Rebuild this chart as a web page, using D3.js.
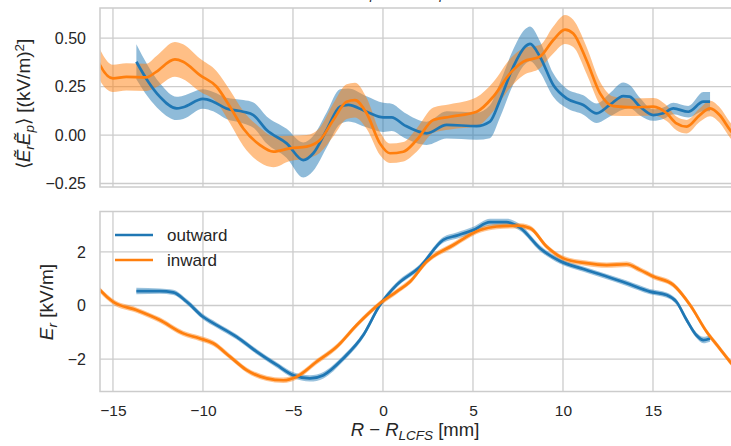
<!DOCTYPE html>
<html>
<head>
<meta charset="utf-8">
<script src="https://cdn.jsdelivr.net/npm/d3@7"></script>
<style>
  body { margin: 0; background: #fff; }
  svg { display: block; }
  text { font-family: Arial, 'Liberation Sans', sans-serif; fill: #262626; }
</style>
</head>
<body>
<svg id="chart" width="731" height="446"></svg>
<script>
// top panel: <E_r E_p> [(kV/m)^2]
const outTopR = [-13.7,-13.04,-12.4,-11.46,-11.1,-10,-9.43,-8.7,-7.76,-7.2,-6.46,-5.35,-4.43,-3.87,-3.13,-2.39,-1.93,-0.91,0.02,0.48,1.2,2.43,3.54,5.2,5.94,6.5,7.24,7.89,8.17,8.72,9.46,10.2,11.13,11.87,12.6,13.35,13.7,14.28,15.02,15.57,16.13,16.96,17.8,18.17];
const outTopV = [0.378,0.275,0.198,0.137,0.143,0.186,0.172,0.137,0.12,0.103,0.026,-0.043,-0.129,-0.094,0.026,0.146,0.155,0.12,0.091,0.091,0.05,0.009,0.052,0.046,0.069,0.18,0.352,0.455,0.47,0.404,0.258,0.189,0.155,0.112,0.155,0.201,0.198,0.146,0.103,0.112,0.137,0.12,0.172,0.172];
const outTopErr = [0.09,0.08,0.07,0.06,0.06,0.05,0.05,0.055,0.06,0.065,0.07,0.075,0.09,0.09,0.09,0.09,0.085,0.08,0.075,0.07,0.065,0.06,0.07,0.07,0.085,0.09,0.09,0.09,0.09,0.08,0.06,0.05,0.05,0.05,0.06,0.07,0.06,0.045,0.03,0.03,0.03,0.03,0.05,0.05];

const inTopR = [-16,-15.72,-15,-14.26,-13.15,-12.6,-11.56,-11.1,-10.17,-9.24,-8.5,-7.76,-6.83,-6.09,-5.17,-4.24,-3.5,-2.76,-2.02,-1.56,-0.91,-0.17,0.39,1.13,1.87,2.8,3.72,5.2,6.13,7.06,7.8,8.72,9.46,10.11,10.57,11.3,12.06,12.8,13.9,15.02,15.76,16.3,16.87,17.6,18.17,18.7,19.28,19.6];
const inTopV = [0.42,0.361,0.292,0.3,0.297,0.326,0.39,0.378,0.309,0.249,0.146,0.034,-0.052,-0.086,-0.069,-0.06,-0.026,0.077,0.172,0.18,0.112,-0.043,-0.094,-0.086,-0.026,0.077,0.094,0.12,0.198,0.318,0.378,0.404,0.49,0.544,0.524,0.387,0.215,0.149,0.143,0.146,0.112,0.06,0.043,0.103,0.137,0.103,0.026,-0.01];
const inTopErr = [0.08,0.08,0.07,0.07,0.07,0.08,0.09,0.09,0.085,0.08,0.085,0.09,0.09,0.08,0.065,0.06,0.065,0.085,0.09,0.09,0.08,0.06,0.05,0.05,0.06,0.065,0.065,0.075,0.075,0.075,0.07,0.06,0.07,0.075,0.07,0.07,0.06,0.05,0.045,0.045,0.04,0.035,0.035,0.035,0.04,0.04,0.04,0.04];

// bottom panel: E_r [kV/m]
const outBotR = [-13.7,-12.4,-11.65,-10.9,-10,-9.24,-8.13,-7.0,-5.9,-4.98,-4.06,-3.31,-2.2,-1.09,-0.17,0.76,2.06,3.35,4.09,5.02,5.94,6.87,7.61,8.72,9.83,11.13,12.43,13.54,14.83,15.76,16.3,16.87,17.4,17.8,18.17];
const outBotV = [0.54,0.54,0.49,0.14,-0.42,-0.73,-1.17,-1.73,-2.22,-2.6,-2.72,-2.6,-1.97,-1.1,0.02,0.77,1.45,2.45,2.61,2.82,3.11,3.11,2.91,2.14,1.66,1.36,1.08,0.83,0.52,0.39,0.14,-0.54,-1.1,-1.29,-1.23];
const outBotErr = [0.12,0.1,0.1,0.1,0.1,0.1,0.1,0.1,0.1,0.11,0.12,0.12,0.11,0.1,0.1,0.1,0.1,0.11,0.12,0.12,0.13,0.13,0.12,0.11,0.1,0.1,0.1,0.1,0.1,0.1,0.1,0.1,0.1,0.12,0.12];

const inBotR = [-16,-15.72,-15,-13.7,-12.4,-11.1,-10.17,-9.43,-8.5,-7.57,-6.46,-5.54,-4.8,-3.69,-2.57,-1.46,-0.17,0.76,1.5,2.43,3.91,5.39,6.32,7.43,8.17,9.09,10.02,11.3,12.43,13.54,14.28,15.02,16.13,17.06,17.98,18.7,19.28,19.6];
const inBotV = [0.8,0.58,0.14,-0.17,-0.54,-1.04,-1.23,-1.41,-1.91,-2.41,-2.72,-2.79,-2.66,-2.1,-1.54,-0.73,0.08,0.52,0.89,1.64,2.26,2.82,2.95,2.98,2.89,2.2,1.76,1.58,1.51,1.54,1.33,1.08,0.77,0.02,-0.98,-1.6,-2.1,-2.35];
const inBotErr = inBotR.map(() => 0.1);

const xTicks = [-15, -10, -5, 0, 5, 10, 15];
const yTopTicks = [-0.25, 0, 0.25, 0.5];
const yBotTicks = [-2, 0, 2];
const seriesNames = ['outward', 'inward'];
const colors = ['#1f77b4', '#ff7f0e'];

const svg = d3.select('#chart');
const grid = '#cccccc';

const x = d3.scaleLinear().domain([-15.72, 19.5]).range([100, 734]);
const yTop = d3.scaleLinear().domain([-0.268, 0.655]).range([187, 8]);
const yBot = d3.scaleLinear().domain([-3.21, 3.51]).range([391.5, 211.5]);

function zip(r, v, e) {
  return r.map((d, i) => ({ r: d, v: v[i], e: e[i] }));
}

function panel(id, y, yTicks, fmt, series, bandOpacity) {
  const [x0, x1] = x.range();
  const [yb, yt] = y.range();
  const g = svg.append('g');

  svg.append('clipPath').attr('id', id)
    .append('rect').attr('x', x0).attr('y', yt).attr('width', x1 - x0).attr('height', yb - yt);

  // grid
  g.selectAll('.vg').data(xTicks).enter().append('line')
    .attr('x1', d => x(d)).attr('x2', d => x(d)).attr('y1', yt).attr('y2', yb)
    .attr('stroke', grid).attr('stroke-width', 1.3);
  g.selectAll('.hg').data(yTicks).enter().append('line')
    .attr('x1', x0).attr('x2', x1).attr('y1', d => y(d)).attr('y2', d => y(d))
    .attr('stroke', grid).attr('stroke-width', 1.3);

  const plot = g.append('g').attr('clip-path', 'url(#' + id + ')');
  series.forEach((s, i) => {
    const area = d3.area().curve(d3.curveMonotoneX)
      .x(d => x(d.r)).y0(d => y(d.v - d.e)).y1(d => y(d.v + d.e));
    plot.append('path').datum(s).attr('d', area)
      .attr('fill', colors[i]).attr('fill-opacity', bandOpacity);
  });
  series.forEach((s, i) => {
    const line = d3.line().curve(d3.curveMonotoneX).x(d => x(d.r)).y(d => y(d.v));
    plot.append('path').datum(s).attr('d', line)
      .attr('fill', 'none').attr('stroke', colors[i]).attr('stroke-width', 2.7)
      .attr('stroke-linejoin', 'round').attr('stroke-linecap', 'butt');
  });

  // frame
  g.append('rect').attr('x', x0).attr('y', yt).attr('width', x1 - x0).attr('height', yb - yt)
    .attr('fill', 'none').attr('stroke', grid).attr('stroke-width', 1.5);

  const yAxis = d3.axisLeft(y).tickValues(yTicks).tickFormat(d3.format(fmt)).tickSize(0).tickPadding(14);
  const ax = g.append('g').attr('transform', `translate(${x0},0)`).call(yAxis);
  ax.select('.domain').remove();
  ax.selectAll('text').style('font-size', '16px').attr('fill', '#262626');
  return g;
}

const topG = panel('clipTop', yTop, yTopTicks, '.2f',
  [zip(outTopR, outTopV, outTopErr), zip(inTopR, inTopV, inTopErr)], 0.5);
const botG = panel('clipBot', yBot, yBotTicks, 'd',
  [zip(outBotR, outBotV, outBotErr), zip(inBotR, inBotV, inBotErr)], 0.45);

// x axis (bottom panel)
const xAxis = d3.axisBottom(x).tickValues(xTicks).tickFormat(d3.format('d')).tickSize(0).tickPadding(13);
const xa = svg.append('g').attr('transform', `translate(0,${yBot.range()[0]})`).call(xAxis);
xa.select('.domain').remove();
xa.selectAll('text').style('font-size', '15.5px').attr('fill', '#262626');

// axis labels
const xl = svg.append('text').attr('x', 415).attr('y', 436).attr('text-anchor', 'middle').style('font-size', '18.5px');
xl.append('tspan').attr('font-style', 'italic').text('R');
xl.append('tspan').text(' \u2212 ');
xl.append('tspan').attr('font-style', 'italic').text('R');
xl.append('tspan').attr('font-style', 'italic').attr('baseline-shift', '-25%').style('font-size', '13.5px').text('LCFS');
xl.append('tspan').text(' [mm]');

const yl1 = svg.append('text').attr('transform', 'translate(30,104) rotate(-90)')
  .attr('text-anchor', 'middle').style('font-size', '19px');
yl1.append('tspan').text('\u27e8');
yl1.append('tspan').attr('font-style', 'italic').text('E\u0303');
yl1.append('tspan').attr('font-style', 'italic').attr('baseline-shift', '-25%').style('font-size', '13.5px').text('r');
yl1.append('tspan').attr('font-style', 'italic').text('E\u0303');
yl1.append('tspan').attr('font-style', 'italic').attr('baseline-shift', '-25%').style('font-size', '13.5px').text('p');
yl1.append('tspan').text('\u27e9 [(kV/m)');
yl1.append('tspan').attr('baseline-shift', '40%').style('font-size', '13.5px').text('2');
yl1.append('tspan').text(']');

const yl2 = svg.append('text').attr('transform', 'translate(53,302) rotate(-90)')
  .attr('text-anchor', 'middle').style('font-size', '19px');
yl2.append('tspan').attr('font-style', 'italic').text('E');
yl2.append('tspan').attr('font-style', 'italic').attr('baseline-shift', '-25%').style('font-size', '13.5px').text('r');
yl2.append('tspan').text(' [kV/m]');

// title, sits above the visible area (only descenders show)
const tl = svg.append('text').attr('x', 415).attr('y', -5).attr('text-anchor', 'middle').style('font-size', '19px');
tl.append('tspan').text('Reynolds stress \u27e8');
tl.append('tspan').attr('font-style', 'italic').text('E\u0303');
tl.append('tspan').attr('font-style', 'italic').attr('baseline-shift', '-25%').style('font-size', '13.5px').text('r');
tl.append('tspan').attr('font-style', 'italic').text('E\u0303');
tl.append('tspan').attr('font-style', 'italic').attr('baseline-shift', '-25%').style('font-size', '13.5px').text('p');
tl.append('tspan').text('\u27e9 and ');
tl.append('tspan').attr('font-style', 'italic').text('E');
tl.append('tspan').attr('font-style', 'italic').attr('baseline-shift', '-25%').style('font-size', '13.5px').text('p');
tl.append('tspan').text(', conditional averaging');

// legend
const legend = svg.append('g');
seriesNames.forEach((name, i) => {
  const ly = 235 + i * 25;
  legend.append('line').attr('x1', 115).attr('x2', 153).attr('y1', ly).attr('y2', ly)
    .attr('stroke', colors[i]).attr('stroke-width', 2.7);
  legend.append('text').attr('x', 167).attr('y', ly + 6).style('font-size', '17px').text(name);
});
</script>
</body>
</html>
